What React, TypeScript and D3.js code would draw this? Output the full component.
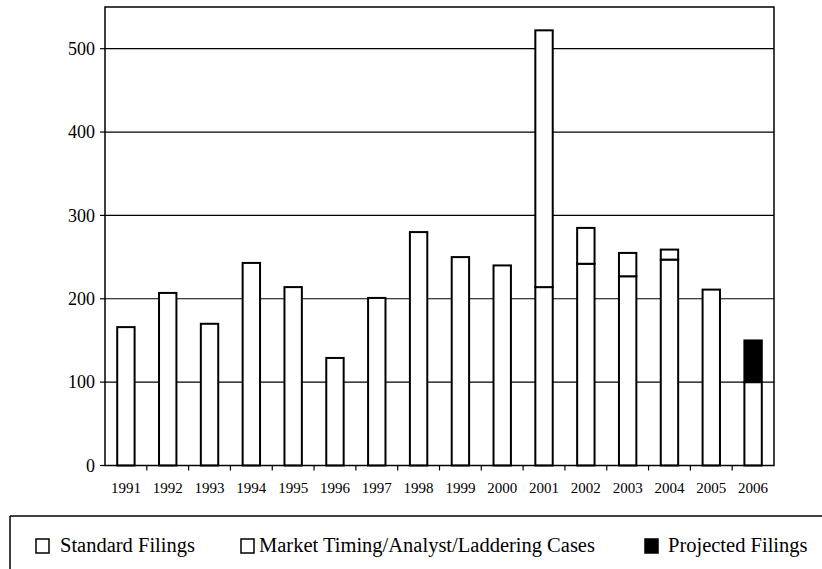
import React from "react";
import * as d3 from "d3";

const years = ["1991","1992","1993","1994","1995","1996","1997","1998","1999","2000","2001","2002","2003","2004","2005","2006"];
const standardFilings = [166, 207, 170, 243, 214, 129, 201, 280, 250, 240, 214, 242, 227, 247, 211, 100];
const marketTimingCases = [0, 0, 0, 0, 0, 0, 0, 0, 0, 0, 308, 43, 28, 12, 0, 0];
const projectedFilings = [0, 0, 0, 0, 0, 0, 0, 0, 0, 0, 0, 0, 0, 0, 0, 50];
const yTicks = [0, 100, 200, 300, 400, 500];
const legendLabels = ["Standard Filings", "Market Timing/Analyst/Laddering Cases", "Projected Filings"];

const W = 822, H = 569;
const left = 105, right = 774, top = 7, bottom = 465.5;
const FONT = "Liberation Serif, Times New Roman, Times, DejaVu Serif, serif";
const textStyle = { fontFamily: FONT };

export default function App() {
  const x = d3.scaleBand<string>().domain(years).range([left, right]).paddingInner(0.584).paddingOuter(0.292);
  const y = d3.scaleLinear().domain([0, 550]).range([bottom, top]);
  const step = x.step();
  const bw = x.bandwidth();

  const rows = years.map((yr, i) => {
    const s = standardFilings[i];
    const m = marketTimingCases[i];
    const p = projectedFilings[i];
    return { yr, segs: [
      { y0: 0, y1: s, fill: "#fff" },
      { y0: s, y1: s + m, fill: "#fff" },
      { y0: s + m, y1: s + m + p, fill: "#000" },
    ].filter(d => d.y1 > d.y0) };
  });

  const legendItems = [
    { label: legendLabels[0], bx: 36, tx: 60, fill: "#fff" },
    { label: legendLabels[1], bx: 241, tx: 259, fill: "#fff" },
    { label: legendLabels[2], bx: 645, tx: 668, fill: "#000" },
  ];

  return (
    <svg width={W} height={H} style={{ position: "absolute", left: 0, top: 0, background: "#fff" }}>
      <rect x={0} y={0} width={W} height={H} fill="#fff" />
      {yTicks.filter(t => t > 0).map(t => (
        <line key={"g" + t} x1={left} x2={right} y1={y(t)} y2={y(t)} stroke="#000" strokeWidth={1.2} />
      ))}
      {rows.map(r => (
        <g key={r.yr}>
          {r.segs.map((s, j) => (
            <rect key={j} x={x(r.yr)!} width={bw} y={y(s.y1)} height={y(s.y0) - y(s.y1)}
              fill={s.fill} stroke="#000" strokeWidth={2} />
          ))}
        </g>
      ))}
      <rect x={left} y={top} width={right - left} height={bottom - top} fill="none" stroke="#000" strokeWidth={1.5} />
      {yTicks.map(t => (
        <g key={"y" + t}>
          <line x1={left - 5} x2={left} y1={y(t)} y2={y(t)} stroke="#000" strokeWidth={1.2} />
          <text x={95} y={y(t)} dy="0.35em" textAnchor="end" fontSize={18} fill="#000" style={textStyle}>{t}</text>
        </g>
      ))}
      {years.slice(1).map((yr, i) => (
        <line key={"xt" + yr} x1={left + step * (i + 1)} x2={left + step * (i + 1)} y1={bottom} y2={bottom + 5} stroke="#000" strokeWidth={1.2} />
      ))}
      {years.map(yr => (
        <text key={"xl" + yr} x={x(yr)! + bw / 2} y={493} textAnchor="middle" fontSize={15} fill="#000" style={textStyle}>{yr}</text>
      ))}
      <line x1={10} x2={W} y1={516} y2={516} stroke="#000" strokeWidth={1.5} />
      <line x1={10} x2={10} y1={516} y2={H} stroke="#000" strokeWidth={1.5} />
      {legendItems.map(it => (
        <g key={it.label}>
          <rect x={it.bx} y={539} width={13} height={14} fill={it.fill} stroke="#000" strokeWidth={1.5} />
          <text x={it.tx} y={552} fontSize={20.5} fill="#000" style={textStyle}>{it.label}</text>
        </g>
      ))}
    </svg>
  );
}
